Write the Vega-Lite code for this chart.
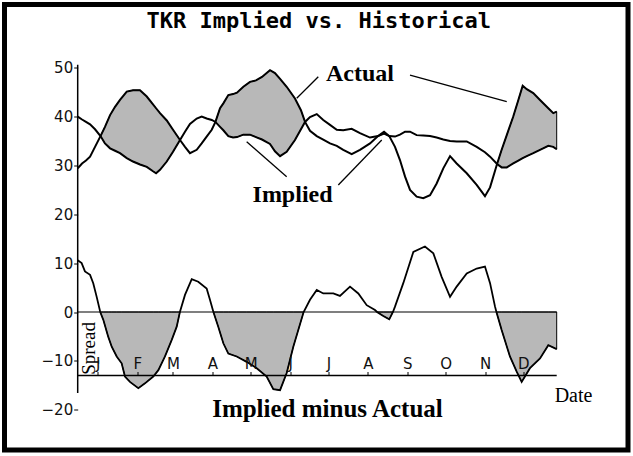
{
  "$schema": "https://vega.github.io/schema/vega-lite/v6.json",
  "width": 623.5,
  "height": 445.5,
  "autosize": {"type": "none"},
  "padding": {"left": 4.5, "top": 4.5, "right": 5, "bottom": 6},
  "background": "white",
  "config": {
    "view": {"stroke": "black", "strokeWidth": 5},
    "axis": {
      "grid": false, "domain": false,
      "labelFont": "DejaVu Sans", "labelFontSize": 15, "labelColor": "#111",
      "tickColor": "black", "tickWidth": 1
    },
    "axisX": {"tickSize": 4, "labelPadding": 0},
    "axisY": {"tickSize": 4, "labelPadding": 1}
  },
  "datasets": {
    "vol": [
      {"day": -15.7, "actual": 29.4, "implied": 40.0, "seg": null},
      {"day": -12.3, "actual": 30.4, "implied": 39.4, "seg": null},
      {"day": -9.2, "actual": 31.0, "implied": 38.9, "seg": null},
      {"day": -6.0, "actual": 31.8, "implied": 38.4, "seg": null},
      {"day": -2.1, "actual": 33.8, "implied": 37.4, "seg": null},
      {"day": 2.2, "actual": 36.0, "implied": 36.0, "seg": 1},
      {"day": 5.7, "actual": 37.9, "implied": 34.5, "seg": 1},
      {"day": 9.7, "actual": 40.3, "implied": 33.5, "seg": 1},
      {"day": 13.6, "actual": 42.0, "implied": 33.0, "seg": 1},
      {"day": 17.5, "actual": 43.4, "implied": 32.5, "seg": 1},
      {"day": 22.8, "actual": 45.1, "implied": 31.5, "seg": 1},
      {"day": 27.7, "actual": 45.4, "implied": 30.8, "seg": 1},
      {"day": 33.2, "actual": 45.4, "implied": 30.2, "seg": 1},
      {"day": 38.5, "actual": 44.1, "implied": 29.7, "seg": 1},
      {"day": 43.4, "actual": 42.5, "implied": 28.8, "seg": 1},
      {"day": 45.8, "actual": 41.7, "implied": 28.4, "seg": 1},
      {"day": 48.9, "actual": 40.7, "implied": 29.1, "seg": 1},
      {"day": 54.2, "actual": 39.2, "implied": 30.8, "seg": 1},
      {"day": 59.1, "actual": 37.3, "implied": 32.8, "seg": 1},
      {"day": 64.6, "actual": 35.2, "implied": 35.2, "seg": 1},
      {"day": 68.5, "actual": 33.8, "implied": 36.9, "seg": null},
      {"day": 72.4, "actual": 32.5, "implied": 38.5, "seg": null},
      {"day": 77.7, "actual": 33.2, "implied": 39.6, "seg": null},
      {"day": 81.6, "actual": 34.5, "implied": 40.0, "seg": null},
      {"day": 85.5, "actual": 35.9, "implied": 39.6, "seg": null},
      {"day": 89.5, "actual": 37.3, "implied": 39.3, "seg": null},
      {"day": 92.4, "actual": 38.9, "implied": 38.9, "seg": 2},
      {"day": 96.0, "actual": 41.7, "implied": 37.9, "seg": 2},
      {"day": 98.6, "actual": 42.7, "implied": 37.2, "seg": 2},
      {"day": 102.5, "actual": 44.4, "implied": 36.0, "seg": 2},
      {"day": 106.2, "actual": 44.6, "implied": 35.7, "seg": 2},
      {"day": 109.3, "actual": 44.9, "implied": 35.8, "seg": 2},
      {"day": 114.3, "actual": 46.1, "implied": 36.3, "seg": 2},
      {"day": 119.5, "actual": 47.1, "implied": 36.3, "seg": 2},
      {"day": 124.2, "actual": 47.4, "implied": 35.8, "seg": 2},
      {"day": 128.9, "actual": 48.1, "implied": 35.3, "seg": 2},
      {"day": 135.2, "actual": 49.5, "implied": 34.4, "seg": 2},
      {"day": 139.1, "actual": 48.9, "implied": 32.9, "seg": 2},
      {"day": 143.1, "actual": 47.7, "implied": 31.9, "seg": 2},
      {"day": 148.3, "actual": 46.1, "implied": 32.8, "seg": 2},
      {"day": 154.8, "actual": 43.7, "implied": 35.2, "seg": 2},
      {"day": 159.5, "actual": 41.3, "implied": 37.4, "seg": 2},
      {"day": 162.7, "actual": 38.9, "implied": 38.9, "seg": 2},
      {"day": 166.6, "actual": 37.1, "implied": 39.9, "seg": null},
      {"day": 171.9, "actual": 36.0, "implied": 40.5, "seg": null},
      {"day": 177.0, "actual": 35.3, "implied": 39.3, "seg": null},
      {"day": 182.3, "actual": 34.5, "implied": 38.3, "seg": null},
      {"day": 187.6, "actual": 34.0, "implied": 37.3, "seg": null},
      {"day": 192.7, "actual": 33.2, "implied": 37.2, "seg": null},
      {"day": 199.3, "actual": 32.3, "implied": 37.5, "seg": null},
      {"day": 205.8, "actual": 33.2, "implied": 36.6, "seg": null},
      {"day": 213.7, "actual": 34.5, "implied": 35.7, "seg": null},
      {"day": 220.0, "actual": 36.0, "implied": 36.0, "seg": 3},
      {"day": 224.7, "actual": 36.9, "implied": 36.5, "seg": 3},
      {"day": 228.8, "actual": 36.0, "implied": 36.0, "seg": 3},
      {"day": 233.3, "actual": 33.8, "implied": 35.9, "seg": null},
      {"day": 237.2, "actual": 31.1, "implied": 36.3, "seg": null},
      {"day": 241.2, "actual": 27.7, "implied": 36.9, "seg": null},
      {"day": 245.1, "actual": 25.0, "implied": 36.9, "seg": null},
      {"day": 250.3, "actual": 23.6, "implied": 36.2, "seg": null},
      {"day": 255.5, "actual": 23.3, "implied": 36.1, "seg": null},
      {"day": 260.8, "actual": 23.9, "implied": 36.0, "seg": null},
      {"day": 266.0, "actual": 26.3, "implied": 35.7, "seg": null},
      {"day": 271.2, "actual": 29.4, "implied": 35.3, "seg": null},
      {"day": 276.5, "actual": 31.9, "implied": 35.0, "seg": null},
      {"day": 281.7, "actual": 30.4, "implied": 34.9, "seg": null},
      {"day": 289.6, "actual": 28.4, "implied": 34.9, "seg": null},
      {"day": 297.4, "actual": 26.0, "implied": 33.8, "seg": null},
      {"day": 303.9, "actual": 23.7, "implied": 32.7, "seg": null},
      {"day": 307.9, "actual": 25.5, "implied": 31.8, "seg": null},
      {"day": 313.4, "actual": 30.3, "implied": 30.3, "seg": 4},
      {"day": 317.0, "actual": 33.2, "implied": 29.6, "seg": 4},
      {"day": 321.0, "actual": 36.2, "implied": 29.6, "seg": 4},
      {"day": 326.1, "actual": 40.0, "implied": 30.4, "seg": 4},
      {"day": 330.1, "actual": 43.4, "implied": 31.0, "seg": 4},
      {"day": 333.5, "actual": 46.3, "implied": 31.5, "seg": 4},
      {"day": 336.7, "actual": 45.6, "implied": 31.9, "seg": 4},
      {"day": 341.8, "actual": 44.8, "implied": 32.5, "seg": 4},
      {"day": 347.1, "actual": 43.4, "implied": 33.2, "seg": 4},
      {"day": 353.6, "actual": 41.7, "implied": 34.0, "seg": 4},
      {"day": 357.5, "actual": 40.7, "implied": 33.8, "seg": 4},
      {"day": 360.2, "actual": 41.0, "implied": 33.3, "seg": 4}
    ],
    "spread": [
      {"day": -15.7, "spread": 10.6, "seg": null},
      {"day": -12.6, "spread": 10.0, "seg": null},
      {"day": -10.0, "spread": 8.3, "seg": null},
      {"day": -6.0, "spread": 7.6, "seg": null},
      {"day": -3.5, "spread": 5.9, "seg": null},
      {"day": -0.8, "spread": 3.1, "seg": null},
      {"day": 2.0, "spread": 0, "seg": 1},
      {"day": 4.4, "spread": -1.6, "seg": 1},
      {"day": 8.3, "spread": -5.1, "seg": 1},
      {"day": 11.0, "spread": -7.1, "seg": 1},
      {"day": 14.9, "spread": -9.1, "seg": 1},
      {"day": 18.8, "spread": -10.5, "seg": 1},
      {"day": 21.4, "spread": -13.2, "seg": 1},
      {"day": 25.3, "spread": -14.3, "seg": 1},
      {"day": 31.9, "spread": -15.6, "seg": 1},
      {"day": 37.1, "spread": -14.6, "seg": 1},
      {"day": 43.6, "spread": -13.2, "seg": 1},
      {"day": 47.6, "spread": -11.9, "seg": 1},
      {"day": 52.8, "spread": -9.1, "seg": 1},
      {"day": 58.1, "spread": -5.7, "seg": 1},
      {"day": 62.0, "spread": -3.0, "seg": 1},
      {"day": 64.5, "spread": 0, "seg": 1},
      {"day": 68.5, "spread": 3.5, "seg": null},
      {"day": 73.8, "spread": 6.7, "seg": null},
      {"day": 78.9, "spread": 6.2, "seg": null},
      {"day": 85.5, "spread": 4.8, "seg": null},
      {"day": 88.1, "spread": 2.5, "seg": null},
      {"day": 90.8, "spread": 0, "seg": 2},
      {"day": 94.6, "spread": -3.0, "seg": 2},
      {"day": 98.6, "spread": -6.4, "seg": 2},
      {"day": 102.5, "spread": -8.5, "seg": 2},
      {"day": 109.1, "spread": -9.1, "seg": 2},
      {"day": 116.9, "spread": -10.2, "seg": 2},
      {"day": 124.8, "spread": -11.5, "seg": 2},
      {"day": 132.6, "spread": -13.2, "seg": 2},
      {"day": 137.8, "spread": -15.8, "seg": 2},
      {"day": 143.1, "spread": -16.0, "seg": 2},
      {"day": 148.3, "spread": -12.5, "seg": 2},
      {"day": 153.5, "spread": -7.1, "seg": 2},
      {"day": 161.6, "spread": 0, "seg": 2},
      {"day": 166.6, "spread": 2.5, "seg": null},
      {"day": 171.9, "spread": 4.5, "seg": null},
      {"day": 177.0, "spread": 3.8, "seg": null},
      {"day": 184.9, "spread": 3.8, "seg": null},
      {"day": 190.1, "spread": 3.3, "seg": null},
      {"day": 198.0, "spread": 5.2, "seg": null},
      {"day": 204.5, "spread": 3.8, "seg": null},
      {"day": 211.1, "spread": 1.4, "seg": null},
      {"day": 217.6, "spread": 0.4, "seg": null},
      {"day": 219.2, "spread": 0, "seg": 3},
      {"day": 224.1, "spread": -0.8, "seg": 3},
      {"day": 228.8, "spread": -1.5, "seg": 3},
      {"day": 231.7, "spread": 0, "seg": 3},
      {"day": 233.3, "spread": 1.1, "seg": null},
      {"day": 239.8, "spread": 5.9, "seg": null},
      {"day": 247.7, "spread": 12.3, "seg": null},
      {"day": 256.8, "spread": 13.4, "seg": null},
      {"day": 263.4, "spread": 12.0, "seg": null},
      {"day": 269.9, "spread": 7.2, "seg": null},
      {"day": 276.5, "spread": 3.1, "seg": null},
      {"day": 281.7, "spread": 5.2, "seg": null},
      {"day": 289.6, "spread": 7.9, "seg": null},
      {"day": 297.4, "spread": 8.9, "seg": null},
      {"day": 303.9, "spread": 9.3, "seg": null},
      {"day": 307.9, "spread": 5.9, "seg": null},
      {"day": 311.8, "spread": 1.1, "seg": null},
      {"day": 312.9, "spread": 0, "seg": 4},
      {"day": 317.0, "spread": -3.7, "seg": 4},
      {"day": 323.5, "spread": -9.1, "seg": 4},
      {"day": 328.8, "spread": -12.2, "seg": 4},
      {"day": 332.7, "spread": -14.3, "seg": 4},
      {"day": 339.2, "spread": -11.5, "seg": 4},
      {"day": 347.1, "spread": -9.5, "seg": 4},
      {"day": 353.6, "spread": -6.8, "seg": 4},
      {"day": 360.2, "spread": -7.6, "seg": 4}
    ]
  },
  "layer": [
    {
      "data": {"name": "vol"},
      "transform": [{"filter": "datum.seg != null"}],
      "mark": {"type": "area", "fill": "#b8b8b8", "stroke": "black", "strokeWidth": 1},
      "encoding": {
        "x": {
          "field": "day", "type": "quantitative", "title": null,
          "scale": {"domain": [-73.14, 416.15], "nice": false, "zero": false},
          "axis": {
            "orient": "top", "offset": -371, "zindex": 2,
            "labelFontSize": 15, "labelFont": "DejaVu Sans", "labelColor": "#111",
            "values": [0, 31, 59, 90, 120, 151, 181, 212, 243, 273, 304, 334],
            "labelExpr": "substring('JFMAMJJASOND', indexof([0,31,59,90,120,151,181,212,243,273,304,334], datum.value), indexof([0,31,59,90,120,151,181,212,243,273,304,334], datum.value) + 1)"
          }
        },
        "y": {
          "field": "actual", "type": "quantitative", "title": null,
          "scale": {"domain": [-28.244, 62.935], "nice": false, "zero": false},
          "axis": {
            "orient": "left", "offset": -73.2, "zindex": 2,
            "labelFontSize": 15, "labelFont": "DejaVu Sans", "labelColor": "#111",
            "values": [-20, -10, 0, 10, 20, 30, 40, 50]
          }
        },
        "y2": {"field": "implied"},
        "detail": {"field": "seg", "type": "nominal"}
      }
    },
    {
      "data": {"name": "spread"},
      "transform": [{"filter": "datum.seg != null"}],
      "mark": {"type": "area", "fill": "#b8b8b8", "stroke": "black", "strokeWidth": 1},
      "encoding": {
        "x": {"field": "day", "type": "quantitative", "title": null},
        "y": {"field": "spread", "type": "quantitative", "title": null},
        "y2": {"datum": 0},
        "detail": {"field": "seg", "type": "nominal"}
      }
    },
    {
      "data": {"name": "vol"},
      "mark": {"type": "line", "color": "black", "strokeWidth": 2},
      "encoding": {
        "x": {"field": "day", "type": "quantitative", "title": null},
        "y": {"field": "actual", "type": "quantitative", "title": null}
      }
    },
    {
      "data": {"name": "vol"},
      "mark": {"type": "line", "color": "black", "strokeWidth": 2},
      "encoding": {
        "x": {"field": "day", "type": "quantitative", "title": null},
        "y": {"field": "implied", "type": "quantitative", "title": null}
      }
    },
    {
      "data": {"name": "spread"},
      "mark": {"type": "line", "color": "black", "strokeWidth": 1.8},
      "encoding": {
        "x": {"field": "day", "type": "quantitative", "title": null},
        "y": {"field": "spread", "type": "quantitative", "title": null}
      }
    },
    {
      "data": {"values": [{}]},
      "mark": {"type": "rule", "color": "black", "strokeWidth": 1.5},
      "encoding": {
        "x": {"datum": -15.7, "type": "quantitative", "title": null},
        "y": {"datum": -16.6, "type": "quantitative", "title": null},
        "y2": {"datum": 50.6}
      }
    },
    {
      "data": {"values": [{}]},
      "mark": {"type": "rule", "color": "black", "strokeWidth": 1.2},
      "encoding": {
        "x": {"datum": -15.7, "type": "quantitative", "title": null},
        "x2": {"datum": 360.2},
        "y": {"datum": 0, "type": "quantitative", "title": null}
      }
    },
    {
      "data": {"values": [{}]},
      "mark": {"type": "rule", "color": "black", "strokeWidth": 1.5},
      "encoding": {
        "x": {"datum": -15.7, "type": "quantitative", "title": null},
        "x2": {"datum": 360.2},
        "y": {"datum": -13, "type": "quantitative", "title": null}
      }
    },
    {
      "data": {"values": [{}]},
      "mark": {"type": "rule", "color": "black", "strokeWidth": 1.3},
      "encoding": {
        "x": {"datum": 156.2, "type": "quantitative", "title": null},
        "y": {"datum": 43.74, "type": "quantitative", "title": null},
        "x2": {"datum": 173.1},
        "y2": {"datum": 48.16}
      }
    },
    {
      "data": {"values": [{}]},
      "mark": {"type": "rule", "color": "black", "strokeWidth": 1.3},
      "encoding": {
        "x": {"datum": 245.1, "type": "quantitative", "title": null},
        "y": {"datum": 48.5, "type": "quantitative", "title": null},
        "x2": {"datum": 321.0},
        "y2": {"datum": 43.04}
      }
    },
    {
      "data": {"values": [{}]},
      "mark": {"type": "rule", "color": "black", "strokeWidth": 1.3},
      "encoding": {
        "x": {"datum": 148.3, "type": "quantitative", "title": null},
        "y": {"datum": 27.69, "type": "quantitative", "title": null},
        "x2": {"datum": 116.9},
        "y2": {"datum": 34.85}
      }
    },
    {
      "data": {"values": [{}]},
      "mark": {"type": "rule", "color": "black", "strokeWidth": 1.3},
      "encoding": {
        "x": {"datum": 188.8, "type": "quantitative", "title": null},
        "y": {"datum": 25.99, "type": "quantitative", "title": null},
        "x2": {"datum": 222.9},
        "y2": {"datum": 35.2}
      }
    },
    {
      "data": {"values": [{}]},
      "mark": {"type": "text", "text": "TKR Implied vs. Historical", "font": "DejaVu Sans Mono", "fontWeight": "bold", "fontSize": 22, "align": "center", "baseline": "alphabetic", "color": "black"},
      "encoding": {
        "x": {"datum": 173.5, "type": "quantitative", "title": null},
        "y": {"datum": 58.06, "type": "quantitative", "title": null}
      }
    },
    {
      "data": {"values": [{}]},
      "mark": {"type": "text", "text": "Actual", "font": "Liberation Serif", "fontWeight": "bold", "fontSize": 24, "align": "center", "baseline": "alphabetic", "color": "black"},
      "encoding": {
        "x": {"datum": 205.8, "type": "quantitative", "title": null},
        "y": {"datum": 47.28, "type": "quantitative", "title": null}
      }
    },
    {
      "data": {"values": [{}]},
      "mark": {"type": "text", "text": "Implied", "font": "Liberation Serif", "fontWeight": "bold", "fontSize": 24, "align": "center", "baseline": "alphabetic", "color": "black"},
      "encoding": {
        "x": {"datum": 152.9, "type": "quantitative", "title": null},
        "y": {"datum": 22.57, "type": "quantitative", "title": null}
      }
    },
    {
      "data": {"values": [{}]},
      "mark": {"type": "text", "text": "Implied minus Actual", "font": "Liberation Serif", "fontWeight": "bold", "fontSize": 25, "align": "center", "baseline": "alphabetic", "color": "black"},
      "encoding": {
        "x": {"datum": 180.3, "type": "quantitative", "title": null},
        "y": {"datum": -21.55, "type": "quantitative", "title": null}
      }
    },
    {
      "data": {"values": [{}]},
      "mark": {"type": "text", "text": "Date", "font": "Liberation Serif", "fontSize": 20, "align": "center", "baseline": "alphabetic", "color": "black"},
      "encoding": {
        "x": {"datum": 373.4, "type": "quantitative", "title": null},
        "y": {"datum": -18.36, "type": "quantitative", "title": null}
      }
    },
    {
      "data": {"values": [{}]},
      "mark": {"type": "text", "text": "Spread", "font": "Liberation Serif", "fontSize": 19, "angle": 270, "align": "center", "baseline": "alphabetic", "color": "black"},
      "encoding": {
        "x": {"datum": -2.1, "type": "quantitative", "title": null},
        "y": {"datum": -7.47, "type": "quantitative", "title": null}
      }
    }
  ]
}
